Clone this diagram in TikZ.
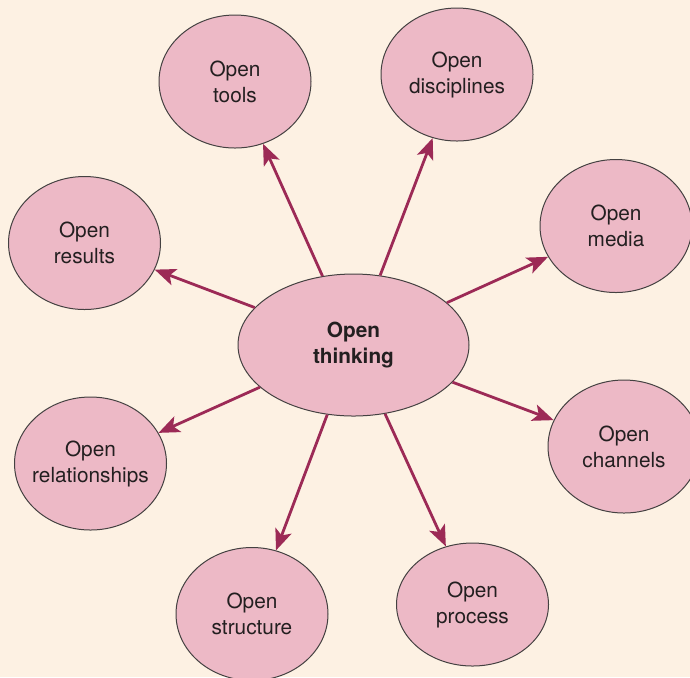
\documentclass[tikz,border=0pt]{standalone}
\usepackage{fontspec}
\setmainfont{TeX Gyre Heros}
\usepackage{tikz}
\usetikzlibrary{shapes.geometric,arrows.meta}
\usepackage{xcolor}
\definecolor{paper}{HTML}{FDF1E3}
\definecolor{petal}{HTML}{EDB9C6}
\definecolor{plum}{HTML}{9C2A56}
\definecolor{ink}{HTML}{231F20}

\begin{document}
\begin{tikzpicture}[
    x=0.5pt, y=-0.5pt,
    bubble/.style={
        ellipse,
        draw=ink!85,
        line width=0.5pt,
        fill=petal,
        text=ink,
        minimum width=76pt,
        minimum height=66.5pt,
        inner xsep=-6pt,
        inner ysep=0pt,
        font=\fontsize{10.4}{13}\selectfont,
        align=center,
    },
    hub/.style={
        bubble,
        minimum width=115.5pt,
        minimum height=71pt,
        font=\fontsize{10.4}{13}\selectfont\bfseries,
    },
    link/.style={
        draw=plum,
        line width=1.4pt,
        -{Stealth[length=10.5pt, width=8.5pt, inset=2.5pt]},
    },
]

\useasboundingbox (0, 0) rectangle (690, 677);
\clip (0, 0) rectangle (690, 677);
\fill[paper] (0, 0) rectangle (690, 677);

\node[hub] (think) at (353.5, 345) {Open\\thinking};

\node[bubble] (tools) at (235, 81.5) {Open\\tools};
\node[bubble] (disc) at (457, 74.5) {Open\\disciplines};
\node[bubble] (media) at (616, 226) {Open\\media};
\node[bubble] (results) at (84.5, 243) {Open\\results};
\node[bubble] (channels) at (624, 446.5) {Open\\channels};
\node[bubble] (rel) at (90.5, 463.5) {Open\\relationships};
\node[bubble] (struct) at (252, 614) {Open\\structure};
\node[bubble, minimum height=61.5pt] (process) at (472.5, 604.5) {Open\\process};

\draw[link] (think) -- (tools);
\draw[link] (think) -- (disc);
\draw[link] (think) -- (media);
\draw[link] (think) -- (results);
\draw[link] (think) -- (channels);
\draw[link] (think) -- (rel);
\draw[link] (think) -- (struct);
\draw[link] (think) -- (process);

\end{tikzpicture}
\end{document}
